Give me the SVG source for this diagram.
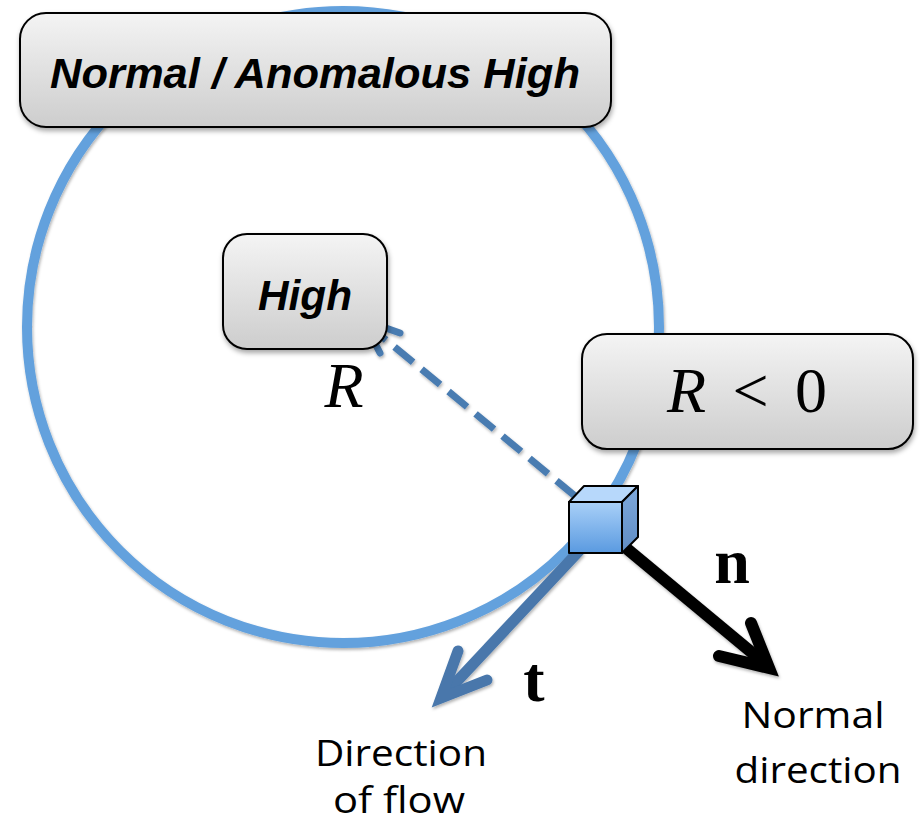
<svg xmlns="http://www.w3.org/2000/svg" width="920" height="824" viewBox="0 0 920 824">
<defs>
<linearGradient id="boxg" x1="0" y1="0" x2="0" y2="1">
<stop offset="0" stop-color="#f4f4f4"/>
<stop offset="1" stop-color="#cdcdcd"/>
</linearGradient>
<linearGradient id="frontg" x1="0" y1="0" x2="0" y2="1">
<stop offset="0" stop-color="#a9d0f8"/>
<stop offset="1" stop-color="#5a9ae0"/>
</linearGradient>
<linearGradient id="sideg" x1="0" y1="0" x2="0" y2="1">
<stop offset="0" stop-color="#7fa9db"/>
<stop offset="1" stop-color="#5f8cc4"/>
</linearGradient>
<filter id="sh" x="-10%" y="-10%" width="120%" height="130%">
<feDropShadow dx="1" dy="3" stdDeviation="2.5" flood-color="#000" flood-opacity="0.35"/>
</filter>
<filter id="sh2" x="-10%" y="-10%" width="120%" height="130%">
<feDropShadow dx="1" dy="2" stdDeviation="1.5" flood-color="#000" flood-opacity="0.3"/>
</filter>
</defs>
<style>
.box{fill:url(#boxg);stroke:#000;stroke-width:2;filter:url(#sh)}
.lbl{font-family:"Liberation Sans",Arial,sans-serif;font-weight:bold;font-style:italic;fill:#000}
.math{font-family:"Liberation Serif","DejaVu Serif",serif;fill:#000}
.cap{font-family:"Open Sans","Liberation Sans",sans-serif;font-size:37px;fill:#000;text-anchor:middle}
</style>
<rect width="920" height="824" fill="#fff"/>
<g id="circle">
<circle cx="343" cy="327" r="316" fill="none" stroke="#63a1dd" stroke-width="10" filter="url(#sh2)"/>
</g>
<g id="connectors">
<g id="dashed-R" fill="none" stroke="#4a7cb1" stroke-width="7" filter="url(#sh2)">
<line x1="575" y1="496" x2="368" y2="325" stroke-dasharray="24 11"/>
<polyline points="400,333 363,320 380,353" stroke-linecap="round" stroke-linejoin="miter"/>
</g>
<g id="arrow-t" fill="none" stroke="#4877ab" stroke-width="11" filter="url(#sh2)">
<line x1="580" y1="550" x2="446" y2="693" stroke-linecap="butt"/>
<polyline points="458,651 441,698 487,680" stroke-linecap="round" stroke-linejoin="miter"/>
</g>
<g id="arrow-n" fill="none" stroke="#000" stroke-width="12" filter="url(#sh2)">
<line x1="620" y1="543" x2="762" y2="661"/>
<polyline points="751,623 769,668 719,656" stroke-linecap="round" stroke-linejoin="miter"/>
</g>
</g>
<g id="node-top">
<rect class="box" x="20" y="13" width="591" height="114" rx="26"/>
<text class="lbl" x="315" y="88" font-size="42" text-anchor="middle" textLength="530" lengthAdjust="spacingAndGlyphs">Normal / Anomalous High</text>
</g>
<g id="node-high">
<rect class="box" x="223" y="234" width="164" height="115" rx="24"/>
<text class="lbl" x="305" y="310" font-size="42" text-anchor="middle" textLength="94" lengthAdjust="spacingAndGlyphs">High</text>
</g>
<g id="node-r0">
<rect class="box" x="582" y="334" width="331" height="115" rx="25"/>
<text class="math" x="747" y="412" font-size="64" text-anchor="middle" textLength="160"><tspan font-style="italic">R</tspan> &lt; 0</text>
</g>
<g id="cube" stroke="#000" stroke-width="2" stroke-linejoin="round">
<polygon points="569,502 584,486 638,486 622,502" fill="#b7d8fb"/>
<polygon points="622,502 638,486 638,537 622,553" fill="url(#sideg)"/>
<rect x="569" y="502" width="53" height="51" fill="url(#frontg)"/>
</g>
<g id="labels">
<text class="math" x="344" y="407" font-size="64" font-style="italic" text-anchor="middle">R</text>
<text class="math" x="732" y="583" font-size="64" font-weight="bold" text-anchor="middle">n</text>
<text class="math" x="534" y="701" font-size="64" font-weight="bold" text-anchor="middle">t</text>
<text class="cap" x="813" y="728" textLength="143" lengthAdjust="spacingAndGlyphs">Normal</text>
<text class="cap" x="818" y="783" textLength="167" lengthAdjust="spacingAndGlyphs">direction</text>
<text class="cap" x="401" y="766" textLength="172" lengthAdjust="spacingAndGlyphs">Direction</text>
<text class="cap" x="399" y="813" textLength="132" lengthAdjust="spacingAndGlyphs">of flow</text>
</g>
</svg>
